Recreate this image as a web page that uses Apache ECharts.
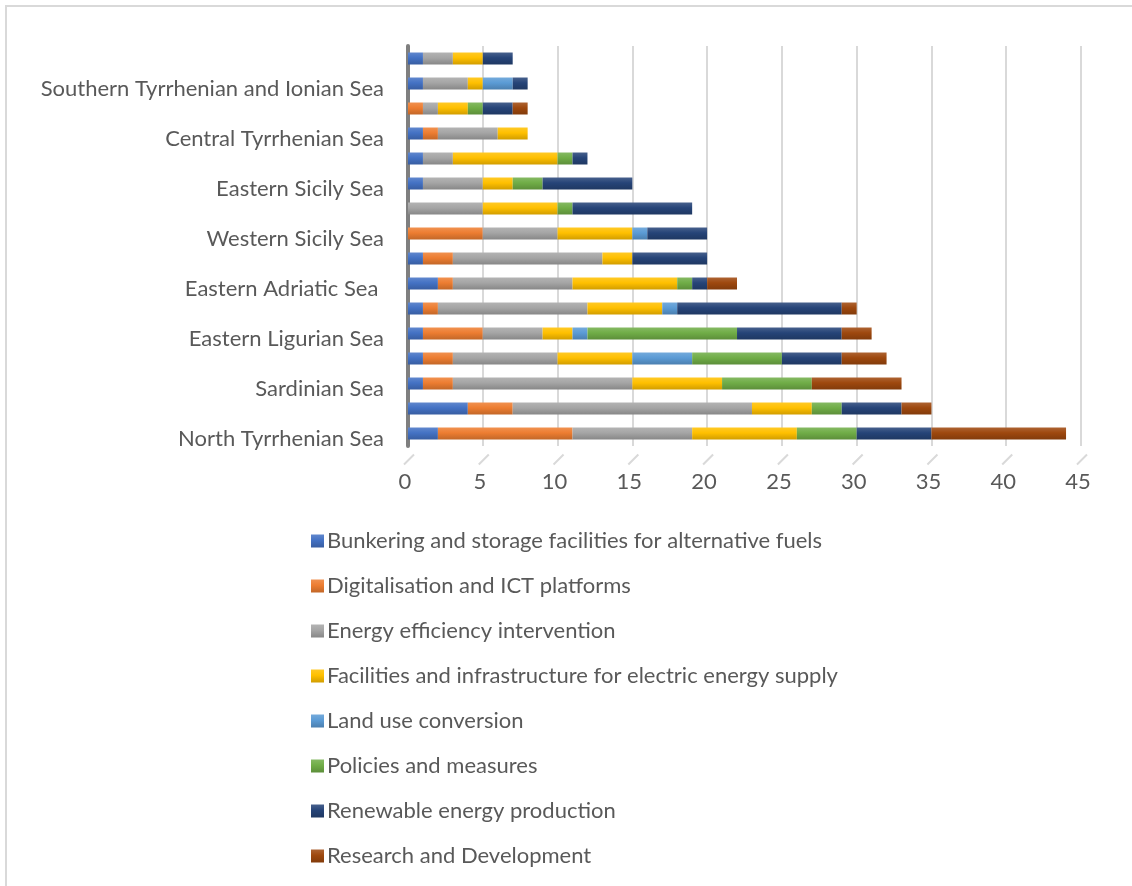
<!DOCTYPE html>
<html>
<head>
<meta charset="utf-8">
<script src="https://cdn.jsdelivr.net/npm/echarts@6/dist/echarts.min.js"></script>
<style>
  html, body { margin: 0; padding: 0; background: #fff; }
  #chart { width: 1132px; height: 886px; }
</style>
</head>
<body>
<div id="chart"></div>
<script>
// Port system areas, bottom to top
const areas = [
  'North Tyrrhenian Sea',
  'Western Ligurian Sea',
  'Sardinian Sea',
  'Northern Adriatic Sea',
  'Eastern Ligurian Sea',
  'Central-Northern Adriatic Sea',
  'Eastern Adriatic Sea ',
  'Central Adriatic Sea',
  'Western Sicily Sea',
  'Southern Adriatic Sea',
  'Eastern Sicily Sea',
  'Central-Northern Tyrrhenian Sea',
  'Central Tyrrhenian Sea',
  'Ionian Sea',
  'Southern Tyrrhenian and Ionian Sea',
  'Strait of Messina'
];

// Number of interventions per category, same order as areas
const bunkering     = [2, 4, 1, 1, 1, 1, 2, 1, 0, 0, 1, 1, 1, 0, 1, 1];
const digital       = [9, 3, 2, 2, 4, 1, 1, 2, 5, 0, 0, 0, 1, 1, 0, 0];
const efficiency    = [8, 16, 12, 7, 4, 10, 8, 10, 5, 5, 4, 2, 4, 1, 3, 2];
const electric      = [7, 4, 6, 5, 2, 5, 7, 2, 5, 5, 2, 7, 2, 2, 1, 2];
const landUse       = [0, 0, 0, 4, 1, 1, 0, 0, 1, 0, 0, 0, 0, 0, 2, 0];
const policies      = [4, 2, 6, 6, 10, 0, 1, 0, 0, 1, 2, 1, 0, 1, 0, 0];
const renewable     = [5, 4, 0, 4, 7, 11, 1, 5, 4, 8, 6, 1, 0, 2, 1, 2];
const research      = [9, 2, 6, 3, 2, 1, 2, 0, 0, 0, 0, 0, 0, 1, 0, 0];

const xTicks = [0, 5, 10, 15, 20, 25, 30, 35, 40, 45];

const seriesDefs = [
  ['Bunkering and storage facilities for alternative fuels', bunkering, '#4472C4'],
  ['Digitalisation and ICT platforms', digital, '#ED7D31'],
  ['Energy efficiency intervention', efficiency, '#A5A5A5'],
  ['Facilities and infrastructure for electric energy supply', electric, '#FFC000'],
  ['Land use conversion', landUse, '#5B9BD5'],
  ['Policies and measures', policies, '#70AD47'],
  ['Renewable energy production', renewable, '#264478'],
  ['Research and Development', research, '#9E480E']
];

function shade(hex, f) {
  const n = parseInt(hex.slice(1), 16);
  let r = (n >> 16) & 255, g = (n >> 8) & 255, b = n & 255;
  const m = c => f >= 0 ? Math.round(c + (255 - c) * f) : Math.round(c * (1 + f));
  return 'rgb(' + m(r) + ',' + m(g) + ',' + m(b) + ')';
}

const FONT = 'Lato';
const TXT = '#595959';
const FS = 22;

const chart = echarts.init(document.getElementById('chart'), null, { renderer: 'canvas' });

const barSeries = seriesDefs.map(([name, values, color]) => ({
  name: name,
  type: 'bar',
  stack: 'total',
  barWidth: 12,
  data: values,
  itemStyle: {
    color: new echarts.graphic.LinearGradient(0, 0, 0, 1, [
      { offset: 0, color: shade(color, 0.15) },
      { offset: 0.45, color: color },
      { offset: 1, color: shade(color, -0.18) }
    ])
  },
  emphasis: { disabled: true }
}));

// Slanted floor marks under each grid line (perspective floor edge)
const floorMarks = {
  type: 'custom',
  name: 'floor',
  silent: true,
  data: xTicks.map(v => [v, 0]),
  renderItem: (params, api) => {
    const p = api.coord([api.value(0), 0]);
    return {
      type: 'line',
      shape: { x1: p[0] - 4, y1: p[1] + 31, x2: p[0] + 6, y2: p[1] + 21 },
      style: { stroke: '#d9d9d9', lineWidth: 2 }
    };
  },
  z: 1
};

chart.setOption({
  backgroundColor: '#ffffff',
  animation: false,
  textStyle: { fontFamily: FONT },
  graphic: [{
    type: 'rect',
    shape: { x: 6, y: 6, width: 1150, height: 900 },
    style: { fill: 'none', stroke: '#d9d9d9', lineWidth: 2 },
    silent: true
  }],
  grid: { left: 408, right: 51, top: 46, bottom: 440 },
  legend: {
    orient: 'vertical',
    left: 306,
    top: 525,
    height: 380,
    itemWidth: 13,
    itemHeight: 13,
    itemGap: 23,
    icon: 'rect',
    textStyle: { color: TXT, fontSize: FS, fontFamily: FONT, padding: [0, 0, 0, -2] },
    data: seriesDefs.map(s => s[0])
  },
  xAxis: {
    type: 'value',
    min: 0,
    max: 45,
    interval: 5,
    axisLine: { show: false },
    axisTick: { show: false },
    axisLabel: {
      color: TXT, fontSize: FS, fontFamily: FONT, margin: 25,
      padding: [0, 6, 0, 0],
      formatter: v => xTicks.includes(v) ? String(v) : ''
    },
    splitLine: { lineStyle: { color: '#d9d9d9', width: 2 } }
  },
  yAxis: {
    type: 'category',
    data: areas,
    axisLine: { lineStyle: { color: '#7f7f7f', width: 4 } },
    axisTick: { show: false },
    axisLabel: {
      color: TXT, fontSize: FS, fontFamily: FONT, margin: 24, interval: 1,
      verticalAlign: 'top', lineHeight: 10
    }
  },
  series: barSeries.concat([floorMarks])
});
</script>
</body>
</html>
